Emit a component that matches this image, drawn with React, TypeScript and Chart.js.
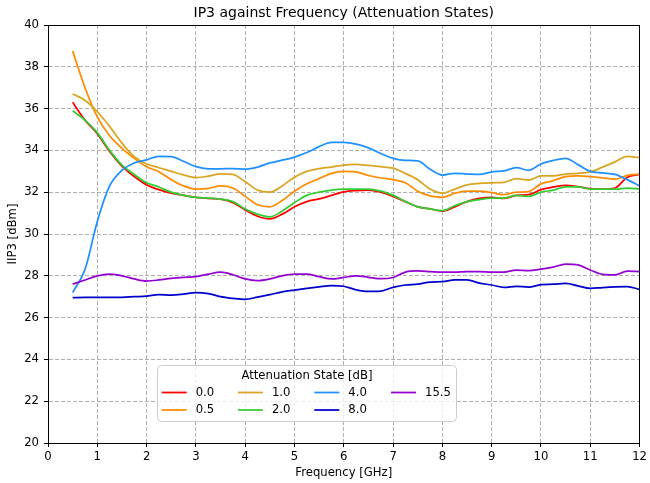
import React, { useEffect, useRef } from "react";
import { Chart, registerables } from "chart.js";

Chart.register(...registerables);

const FREQ_GHZ = [0.5, 0.75, 1, 1.25, 1.5, 1.75, 2, 2.25, 2.5, 2.75, 3, 3.25, 3.5, 3.75, 4, 4.25, 4.5, 4.75, 5, 5.25, 5.5, 5.75, 6, 6.25, 6.5, 6.75, 7, 7.25, 7.5, 7.75, 8, 8.25, 8.5, 8.75, 9, 9.25, 9.5, 9.75, 10, 10.25, 10.5, 10.75, 11, 11.25, 11.5, 11.75, 12];

const ATT_0_0 = [36.3, 35.45, 34.8, 33.95, 33.25, 32.75, 32.35, 32.12, 31.95, 31.85, 31.75, 31.7, 31.67, 31.5, 31.15, 30.85, 30.72, 30.95, 31.3, 31.55, 31.68, 31.85, 32.02, 32.08, 32.1, 32.0, 31.8, 31.55, 31.3, 31.2, 31.1, 31.3, 31.55, 31.7, 31.75, 31.7, 31.85, 31.88, 32.12, 32.25, 32.33, 32.27, 32.17, 32.15, 32.2, 32.72, 32.85];
const ATT_0_5 = [38.75, 37.0, 35.6, 34.7, 34.1, 33.62, 33.22, 32.98, 32.6, 32.3, 32.15, 32.18, 32.3, 32.2, 31.8, 31.4, 31.3, 31.6, 32.05, 32.4, 32.65, 32.9, 33.0, 32.97, 32.8, 32.68, 32.6, 32.45, 32.05, 31.82, 31.75, 31.95, 32.05, 32.05, 31.98, 31.88, 32.0, 32.03, 32.4, 32.55, 32.75, 32.78, 32.75, 32.68, 32.62, 32.8, 32.87];
const ATT_1_0 = [36.7, 36.4, 35.85, 35.15, 34.35, 33.7, 33.35, 33.17, 33.0, 32.83, 32.7, 32.77, 32.88, 32.85, 32.5, 32.1, 32.0, 32.3, 32.72, 33.0, 33.13, 33.2, 33.3, 33.33, 33.28, 33.22, 33.15, 32.9, 32.6, 32.15, 31.95, 32.15, 32.35, 32.42, 32.45, 32.47, 32.65, 32.58, 32.78, 32.78, 32.87, 32.9, 32.97, 33.2, 33.45, 33.72, 33.65];
const ATT_2_0 = [35.9, 35.45, 34.85, 34.0, 33.3, 32.85, 32.45, 32.25, 32.0, 31.85, 31.75, 31.72, 31.67, 31.55, 31.2, 30.95, 30.82, 31.1, 31.5, 31.85, 32.0, 32.1, 32.15, 32.15, 32.15, 32.05, 31.85, 31.55, 31.3, 31.2, 31.12, 31.35, 31.55, 31.65, 31.72, 31.72, 31.85, 31.8, 32.0, 32.1, 32.25, 32.25, 32.15, 32.15, 32.15, 32.2, 32.15];
const ATT_4_0 = [27.2, 28.3, 30.6, 32.3, 33.05, 33.4, 33.55, 33.72, 33.7, 33.48, 33.22, 33.12, 33.12, 33.13, 33.1, 33.2, 33.4, 33.53, 33.68, 33.9, 34.18, 34.38, 34.38, 34.3, 34.12, 33.85, 33.62, 33.52, 33.5, 33.1, 32.82, 32.9, 32.87, 32.85, 32.97, 33.02, 33.17, 33.05, 33.35, 33.52, 33.62, 33.32, 33.0, 32.92, 32.85, 32.6, 32.3];
const ATT_8_0 = [26.95, 26.97, 26.97, 26.97, 26.97, 27.0, 27.03, 27.1, 27.07, 27.12, 27.2, 27.15, 27.0, 26.92, 26.87, 26.98, 27.1, 27.23, 27.32, 27.4, 27.47, 27.53, 27.5, 27.33, 27.25, 27.27, 27.45, 27.56, 27.6, 27.7, 27.72, 27.8, 27.8, 27.65, 27.56, 27.45, 27.5, 27.46, 27.58, 27.6, 27.64, 27.52, 27.4, 27.44, 27.47, 27.48, 27.35];
const ATT_15_5 = [27.6, 27.8, 28.0, 28.08, 28.0, 27.85, 27.75, 27.8, 27.88, 27.93, 27.96, 28.08, 28.17, 28.05, 27.85, 27.77, 27.85, 28.0, 28.08, 28.08, 27.96, 27.85, 27.92, 28.0, 27.93, 27.86, 27.92, 28.18, 28.23, 28.2, 28.17, 28.17, 28.2, 28.2, 28.17, 28.18, 28.27, 28.25, 28.32, 28.42, 28.56, 28.52, 28.28, 28.07, 28.05, 28.22, 28.2];

const SERIES_LABELS = ["0.0", "0.5", "1.0", "2.0", "4.0", "8.0", "15.5"];
const SERIES_VALUES = [ATT_0_0, ATT_0_5, ATT_1_0, ATT_2_0, ATT_4_0, ATT_8_0, ATT_15_5];
const SERIES_COLORS = ["#ff0000", "#ff8c00", "#daa520", "#32cd32", "#1e90ff", "#0000cd", "#9400d3"];

const TITLE = "IP3 against Frequency (Attenuation States)";
const X_TITLE = "Frequency [GHz]";
const Y_TITLE = "IIP3 [dBm]";
const LEGEND_TITLE = "Attenuation State [dB]";

const FONT = "'DejaVu Sans', sans-serif";
const FS = 11.67;

const align = (p: number) => Math.round(p - 0.5) + 0.5;

const framePlugin = {
  id: "frameAndLegend",
  afterDatasetsDraw(chart: any) {
    const { ctx, chartArea } = chart;
    ctx.save();
    ctx.strokeStyle = "#000";
    ctx.lineWidth = 1;
    const l = align(chartArea.left);
    const r = align(chartArea.right);
    const t = align(chartArea.top);
    const b = align(chartArea.bottom);
    ctx.strokeRect(l, t, r - l, b - t);
    ctx.restore();
  },
  afterDraw(chart: any) {
    const { ctx, chartArea } = chart;
    ctx.save();
    ctx.fillStyle = "#000";
    ctx.font = `14px ${FONT}`;
    ctx.textAlign = "center";
    ctx.textBaseline = "middle";
    ctx.fillText(TITLE, (chartArea.left + chartArea.right) / 2, 13);

    const bx = 157.5, by = 365.5, bw = 299, bh = 56, rad = 4;
    ctx.beginPath();
    ctx.moveTo(bx + rad, by);
    ctx.lineTo(bx + bw - rad, by);
    ctx.quadraticCurveTo(bx + bw, by, bx + bw, by + rad);
    ctx.lineTo(bx + bw, by + bh - rad);
    ctx.quadraticCurveTo(bx + bw, by + bh, bx + bw - rad, by + bh);
    ctx.lineTo(bx + rad, by + bh);
    ctx.quadraticCurveTo(bx, by + bh, bx, by + bh - rad);
    ctx.lineTo(bx, by + rad);
    ctx.quadraticCurveTo(bx, by, bx + rad, by);
    ctx.closePath();
    ctx.fillStyle = "rgba(255,255,255,0.8)";
    ctx.fill();
    ctx.strokeStyle = "#cccccc";
    ctx.lineWidth = 1;
    ctx.stroke();

    ctx.fillStyle = "#000";
    ctx.font = `${FS}px ${FONT}`;
    ctx.textAlign = "center";
    ctx.fillText(LEGEND_TITLE, bx + bw / 2, 375.5);

    const colX = [161.7, 237.9, 314.3, 391];
    const rowY = [392.5, 410];
    chart.data.datasets.forEach((ds: any, i: number) => {
      const col = Math.floor(i / 2);
      const row = i % 2;
      const x = colX[col];
      const y = rowY[row];
      ctx.strokeStyle = ds.borderColor;
      ctx.lineWidth = 1.75;
      ctx.beginPath();
      ctx.moveTo(x, y);
      ctx.lineTo(x + 25, y);
      ctx.stroke();
      ctx.fillStyle = "#000";
      ctx.textAlign = "left";
      ctx.textBaseline = "middle";
      ctx.fillText(ds.label, x + 34, y);
    });
    ctx.restore();
  },
};

export default function App() {
  const ref = useRef<HTMLCanvasElement | null>(null);

  useEffect(() => {
    if (!ref.current) return;
    Chart.defaults.color = "#000";
    Chart.defaults.font.family = FONT;
    const datasets = SERIES_VALUES.map((vals, i) => ({
      label: SERIES_LABELS[i],
      data: FREQ_GHZ.map((f, k) => ({ x: f, y: vals[k] })),
      borderColor: SERIES_COLORS[i],
      backgroundColor: SERIES_COLORS[i],
      borderWidth: 1.75,
      pointRadius: 0,
      cubicInterpolationMode: "monotone",
      fill: false,
      order: SERIES_VALUES.length - i,
    }));
    const chart = new Chart(ref.current, {
      type: "line",
      data: { datasets },
      options: {
        responsive: false,
        animation: false,
        devicePixelRatio: 1,
        layout: { padding: { top: 25, right: 9, left: 0, bottom: 0 } },
        plugins: {
          legend: { display: false },
          title: { display: false },
          tooltip: { enabled: false },
        },
        scales: {
          x: {
            type: "linear",
            min: 0,
            max: 12,
            ticks: { stepSize: 1, color: "#000", font: { size: FS, family: FONT }, padding: 3, maxRotation: 0 },
            grid: { color: "#b0b0b0", lineWidth: 1, tickColor: "#000", tickLength: 4, tickBorderDash: [] },
            border: { display: true, color: "#000", width: 1, dash: [4, 2] },
            title: { display: true, text: X_TITLE, color: "#000", font: { size: FS, family: FONT }, padding: { top: 0, bottom: 3 } },
            afterFit: (s: any) => { s.height = 40; },
          },
          y: {
            type: "linear",
            min: 20,
            max: 40,
            ticks: { stepSize: 2, color: "#000", font: { size: FS, family: FONT }, padding: 5 },
            grid: { color: "#b0b0b0", lineWidth: 1, tickColor: "#000", tickLength: 4, tickBorderDash: [] },
            border: { display: true, color: "#000", width: 1, dash: [4, 2] },
            title: { display: true, text: Y_TITLE, color: "#000", font: { size: FS, family: FONT }, padding: { top: 6, bottom: 0 } },
            afterFit: (s: any) => { s.width = 48; },
          },
        },
      },
      plugins: [framePlugin],
    });
    return () => chart.destroy();
  }, []);

  return (
    <div style={{ position: "absolute", left: 0, top: 0, width: 650, height: 483, background: "#fff" }}>
      <canvas ref={ref} width={650} height={483} style={{ display: "block" }} />
    </div>
  );
}
